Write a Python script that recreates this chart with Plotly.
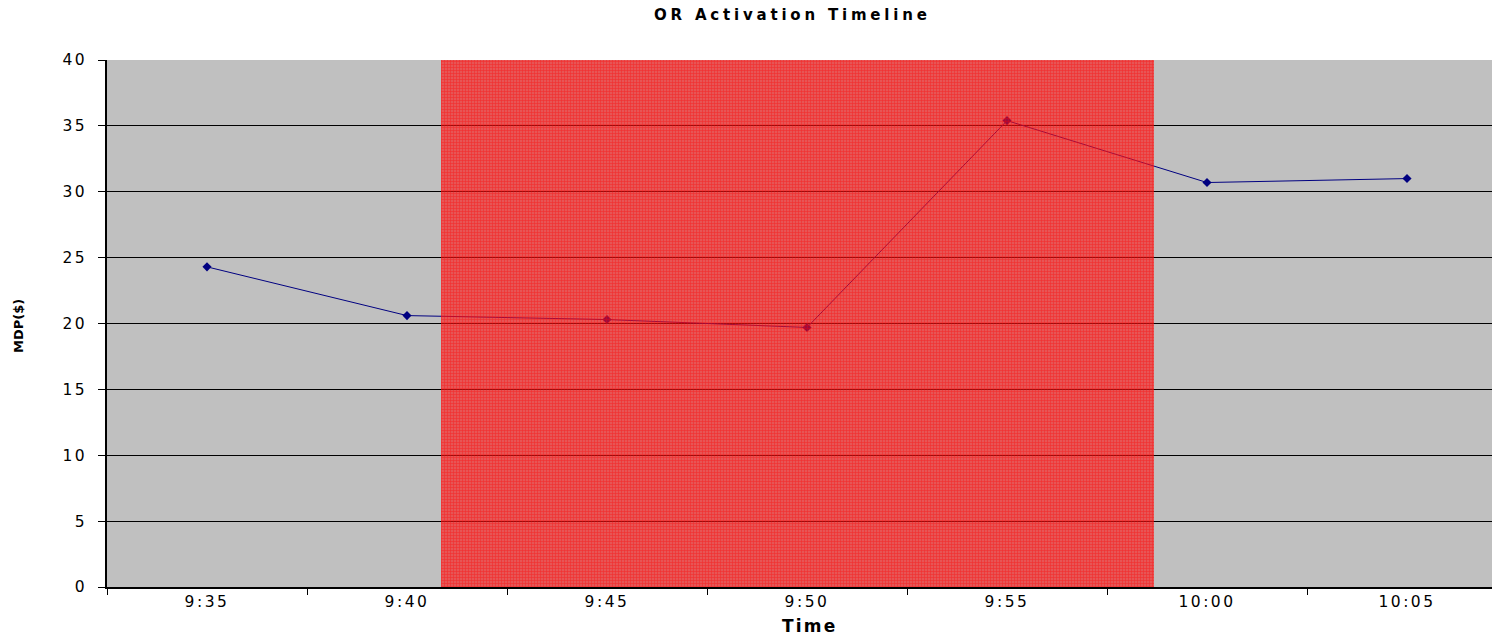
import plotly.graph_objects as go

# Readings taken every five minutes
time_labels = ["9:35", "9:40", "9:45", "9:50", "9:55", "10:00", "10:05"]
minutes = [575, 580, 585, 590, 595, 600, 605]   # minutes after midnight
values = [24.3, 20.6, 20.3, 19.7, 35.4, 30.7, 31.0]

# OR activation window (minutes after midnight)
activation_start = 580.85
activation_end = 598.67

y_ticks = [0, 5, 10, 15, 20, 25, 30, 35, 40]

FONT = "DejaVu Sans, Liberation Sans, Arial, sans-serif"
x_range = [minutes[0] - 2.5, minutes[-1] + 2.5]
boundaries = [m - 2.5 for m in minutes] + [minutes[-1] + 2.5]


def wide(text, spacing):
    """Widen a label with extra letter spacing."""
    return f'<span style="letter-spacing:{spacing}px">{text}</span>'


fig = go.Figure()

fig.add_trace(go.Scatter(
    x=minutes, y=values, mode="lines+markers",
    line=dict(color="#000080", width=1),
    marker=dict(symbol="diamond", size=7, color="#000080"),
    showlegend=False, hoverinfo="x+y",
))

# Activation window shaded on an overlaying axis pair so it sits above the line
fig.add_trace(go.Bar(
    x=[(activation_start + activation_end) / 2],
    y=[y_ticks[-1]],
    width=[activation_end - activation_start],
    xaxis="x2", yaxis="y2",
    marker=dict(
        color="rgba(255,20,20,0.62)",
        line=dict(width=0),
        pattern=dict(shape="+", fgcolor="rgba(255,0,0,0.85)", size=3,
                     solidity=0.4, fillmode="overlay"),
    ),
    showlegend=False, hoverinfo="skip",
))

fig.update_layout(
    width=1508, height=635,
    margin=dict(l=107, r=1, t=60, b=48),
    paper_bgcolor="white",
    plot_bgcolor="#C0C0C0",
    font=dict(family=FONT, size=15, color="black"),
    bargap=0,
    xaxis=dict(
        range=x_range, tickmode="array", tickvals=minutes,
        ticktext=[wide(t, 2.5) for t in time_labels],
        ticks="", showgrid=False, zeroline=False,
        showline=True, linecolor="black", linewidth=1.5,
        tickfont=dict(size=15.5, family=FONT),
        minor=dict(tickmode="array", tickvals=boundaries, ticks="outside",
                   ticklen=6, tickcolor="black", showgrid=False),
    ),
    yaxis=dict(
        range=[0, 40], tickmode="array", tickvals=y_ticks,
        ticktext=[wide(str(v), 2.5) for v in y_ticks],
        ticks="outside", ticklen=7, tickcolor="black",
        showgrid=True, gridcolor="black", gridwidth=1, zeroline=False,
        showline=True, linecolor="black", linewidth=1.5,
        tickfont=dict(size=15.5, family=FONT), ticklabelstandoff=8,
    ),
    xaxis2=dict(range=x_range, overlaying="x", visible=False),
    yaxis2=dict(range=[0, 40], overlaying="y", visible=False),
    annotations=[
        dict(text=wide("<b>OR Activation Timeline</b>", 3.8), xref="paper", yref="paper",
             x=(792 - 107) / 1400, y=1 + 45 / 527, showarrow=False,
             xanchor="center", yanchor="middle", font=dict(size=15, family=FONT)),
        dict(text=wide("<b>Time</b>", 2.2), xref="paper", yref="paper",
             x=(809 - 107) / 1400, y=-39 / 527, showarrow=False,
             xanchor="center", yanchor="middle", font=dict(size=17, family=FONT)),
        dict(text="<b>MDP($)</b>", xref="paper", yref="paper",
             x=(18 - 107) / 1400, y=(587 - 326) / 527, showarrow=False,
             textangle=-90, xanchor="center", yanchor="middle",
             font=dict(size=13, family=FONT)),
    ],
)

fig.write_html("out.html")
